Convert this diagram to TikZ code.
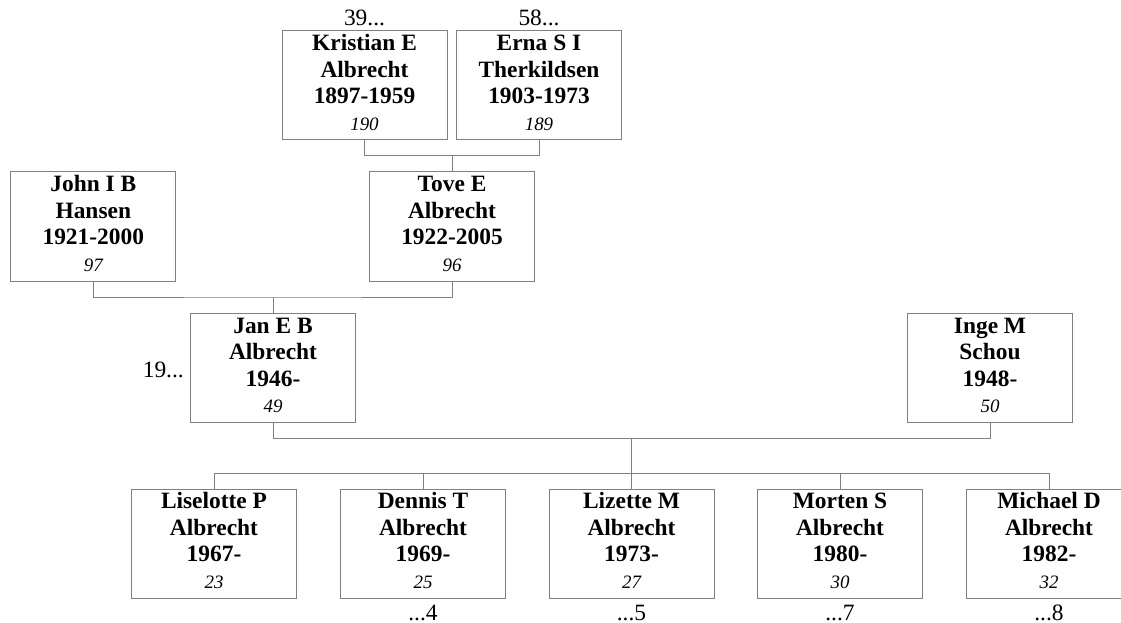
\documentclass[tikz,border=0pt]{standalone}
\usepackage{fontspec}
\setmainfont{Liberation Serif}
\definecolor{linegray}{RGB}{128,128,128}
\newcommand\pinfo[4]{\rule{0pt}{16bp}#1\\#2\\#3\\{\mdseries\itshape\fontsize{19}{26.7}\selectfont #4}\rule[-6bp]{0pt}{6bp}}
\tikzset{
  person/.style={draw=linegray, line width=1bp, minimum width=165bp, minimum height=109bp,
    inner sep=0pt, align=center, font=\fontsize{23.5}{26.7}\selectfont\bfseries},
  conn/.style={draw=linegray, line width=1bp},
  ref/.style={inner sep=0pt, font=\fontsize{23.5}{26.7}\selectfont}
}
\begin{document}
\begin{tikzpicture}[x=1bp, y=-1bp]
\useasboundingbox (0,0) rectangle (1121,623);
% grandparents
\node[person] (kr) at (364.5,85.5) {\pinfo{Kristian E}{Albrecht}{1897-1959}{190}};
\node[person] (er) at (539,85.5) {\pinfo{Erna S I}{Therkildsen}{1903-1973}{189}};
% parents generation
\node[person] (jo) at (93.3,226.5) {\pinfo{John I B}{Hansen}{1921-2000}{97}};
\node[person] (tv) at (452,226.5) {\pinfo{Tove E}{Albrecht}{1922-2005}{96}};
% couple
\node[person] (jan) at (273,368) {\pinfo{Jan E B}{Albrecht}{1946-}{49}};
\node[person] (ing) at (990,368) {\pinfo{Inge M}{Schou}{1948-}{50}};
% children
\node[person] (c1) at (214,543.5) {\pinfo{Liselotte P}{Albrecht}{1967-}{23}};
\node[person] (c2) at (423,543.5) {\pinfo{Dennis T}{Albrecht}{1969-}{25}};
\node[person] (c3) at (631.5,543.5) {\pinfo{Lizette M}{Albrecht}{1973-}{27}};
\node[person] (c4) at (840,543.5) {\pinfo{Morten S}{Albrecht}{1980-}{30}};
\node[person] (c5) at (1049,543.5) {\pinfo{Michael D}{Albrecht}{1982-}{32}};
% reference labels
\node[ref, anchor=base] (l39) at (364.5,26) {39...};
\node[ref, anchor=base] (l58) at (539,26) {58...};
\node[ref, anchor=base east] (l19) at (184,377) {19...};
\node[ref, anchor=base] (l4) at (423,620) {...4};
\node[ref, anchor=base] (l5) at (631.5,620) {...5};
\node[ref, anchor=base] (l7) at (840,620) {...7};
\node[ref, anchor=base] (l8) at (1049,620) {...8};
% junctions
\coordinate (j1) at (452,155.7);
\coordinate (j2) at (273,297);
\coordinate (j3) at (631.5,438.5);
\coordinate (j4) at (631.5,473.3);
% connectors
\draw[conn] (kr.south) |- (j1) -| (er.south);
\draw[conn] (j1) -- (tv.north);
\draw[conn] (jo.south) |- (j2) -| (tv.south);
\draw[conn] (j2) -- (jan.north);
\draw[conn] (jan.south) |- (j3) -| (ing.south);
\draw[conn] (j3) -- (j4);
\draw[conn] (j4) -| (c1.north);
\draw[conn] (j4) -| (c2.north);
\draw[conn] (j4) -| (c3.north);
\draw[conn] (j4) -| (c4.north);
\draw[conn] (j4) -| (c5.north);
\end{tikzpicture}
\end{document}
